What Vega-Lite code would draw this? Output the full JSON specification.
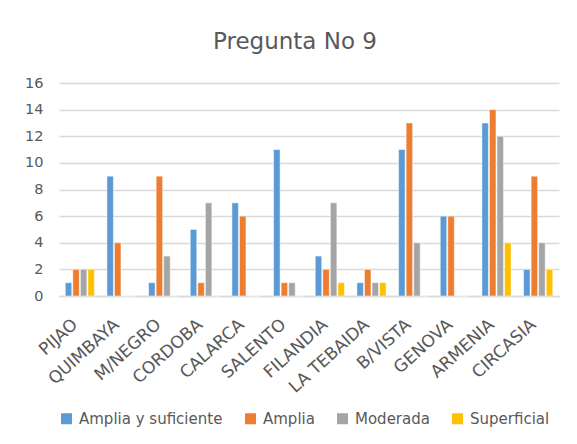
{
  "$schema": "https://vega.github.io/schema/vega-lite/v6.json",
  "autosize": {"type": "none"},
  "width": 500,
  "height": 213,
  "padding": {"left": 59, "top": 83, "right": 18, "bottom": 148},
  "background": "white",
  "title": {"text": "Pregunta No 9", "fontSize": 23, "font": "DejaVu Sans", "fontWeight": "normal", "color": "#595959", "offset": 21, "anchor": "middle", "dx": -14},
  "config": {"view": {"stroke": null}, "font": "DejaVu Sans"},
  "data": {"values": [
    {"m": "PIJAO", "s": "Amplia y suficiente", "v": 1}, {"m": "PIJAO", "s": "Amplia", "v": 2}, {"m": "PIJAO", "s": "Moderada", "v": 2}, {"m": "PIJAO", "s": "Superficial", "v": 2},
    {"m": "QUIMBAYA", "s": "Amplia y suficiente", "v": 9}, {"m": "QUIMBAYA", "s": "Amplia", "v": 4}, {"m": "QUIMBAYA", "s": "Moderada", "v": 0}, {"m": "QUIMBAYA", "s": "Superficial", "v": 0},
    {"m": "M/NEGRO", "s": "Amplia y suficiente", "v": 1}, {"m": "M/NEGRO", "s": "Amplia", "v": 9}, {"m": "M/NEGRO", "s": "Moderada", "v": 3}, {"m": "M/NEGRO", "s": "Superficial", "v": 0},
    {"m": "CORDOBA", "s": "Amplia y suficiente", "v": 5}, {"m": "CORDOBA", "s": "Amplia", "v": 1}, {"m": "CORDOBA", "s": "Moderada", "v": 7}, {"m": "CORDOBA", "s": "Superficial", "v": 0},
    {"m": "CALARCA", "s": "Amplia y suficiente", "v": 7}, {"m": "CALARCA", "s": "Amplia", "v": 6}, {"m": "CALARCA", "s": "Moderada", "v": 0}, {"m": "CALARCA", "s": "Superficial", "v": 0},
    {"m": "SALENTO", "s": "Amplia y suficiente", "v": 11}, {"m": "SALENTO", "s": "Amplia", "v": 1}, {"m": "SALENTO", "s": "Moderada", "v": 1}, {"m": "SALENTO", "s": "Superficial", "v": 0},
    {"m": "FILANDIA", "s": "Amplia y suficiente", "v": 3}, {"m": "FILANDIA", "s": "Amplia", "v": 2}, {"m": "FILANDIA", "s": "Moderada", "v": 7}, {"m": "FILANDIA", "s": "Superficial", "v": 1},
    {"m": "LA TEBAIDA", "s": "Amplia y suficiente", "v": 1}, {"m": "LA TEBAIDA", "s": "Amplia", "v": 2}, {"m": "LA TEBAIDA", "s": "Moderada", "v": 1}, {"m": "LA TEBAIDA", "s": "Superficial", "v": 1},
    {"m": "B/VISTA", "s": "Amplia y suficiente", "v": 11}, {"m": "B/VISTA", "s": "Amplia", "v": 13}, {"m": "B/VISTA", "s": "Moderada", "v": 4}, {"m": "B/VISTA", "s": "Superficial", "v": 0},
    {"m": "GENOVA", "s": "Amplia y suficiente", "v": 6}, {"m": "GENOVA", "s": "Amplia", "v": 6}, {"m": "GENOVA", "s": "Moderada", "v": 0}, {"m": "GENOVA", "s": "Superficial", "v": 0},
    {"m": "ARMENIA", "s": "Amplia y suficiente", "v": 13}, {"m": "ARMENIA", "s": "Amplia", "v": 14}, {"m": "ARMENIA", "s": "Moderada", "v": 12}, {"m": "ARMENIA", "s": "Superficial", "v": 4},
    {"m": "CIRCASIA", "s": "Amplia y suficiente", "v": 2}, {"m": "CIRCASIA", "s": "Amplia", "v": 9}, {"m": "CIRCASIA", "s": "Moderada", "v": 4}, {"m": "CIRCASIA", "s": "Superficial", "v": 2}
  ]},
  "mark": {"type": "bar", "stroke": "white", "strokeWidth": 0.5},
  "encoding": {
    "x": {"field": "m", "type": "nominal", "sort": null, "title": null,
      "scale": {"paddingInner": 0.3, "paddingOuter": 0.15},
      "axis": {"labelAngle": -42, "labelFontSize": 17, "labelColor": "#595959", "ticks": false, "domainColor": "#d9d9d9", "domainWidth": 1.5, "labelPadding": 20, "labelOffset": -10}},
    "xOffset": {"field": "s", "type": "nominal", "sort": ["Amplia y suficiente", "Amplia", "Moderada", "Superficial"], "scale": {"paddingInner": 0.14}},
    "y": {"field": "v", "type": "quantitative", "title": null,
      "scale": {"domain": [0, 16]},
      "axis": {"values": [0, 2, 4, 6, 8, 10, 12, 14, 16], "domain": false, "ticks": false, "labelFontSize": 14.5, "labelColor": "#595959", "gridColor": "#d9d9d9", "gridWidth": 1.5, "labelPadding": 16}},
    "color": {"field": "s", "type": "nominal", "sort": ["Amplia y suficiente", "Amplia", "Moderada", "Superficial"],
      "scale": {"domain": ["Amplia y suficiente", "Amplia", "Moderada", "Superficial"], "range": ["#5B9BD5", "#ED7D31", "#A5A5A5", "#FFC000"]},
      "legend": {"orient": "bottom", "direction": "horizontal", "title": null, "symbolType": "square", "symbolSize": 121, "symbolStrokeWidth": 0, "labelFontSize": 15, "labelColor": "#595959", "labelOffset": 5, "columnPadding": 20, "offset": 15}}
  }
}
